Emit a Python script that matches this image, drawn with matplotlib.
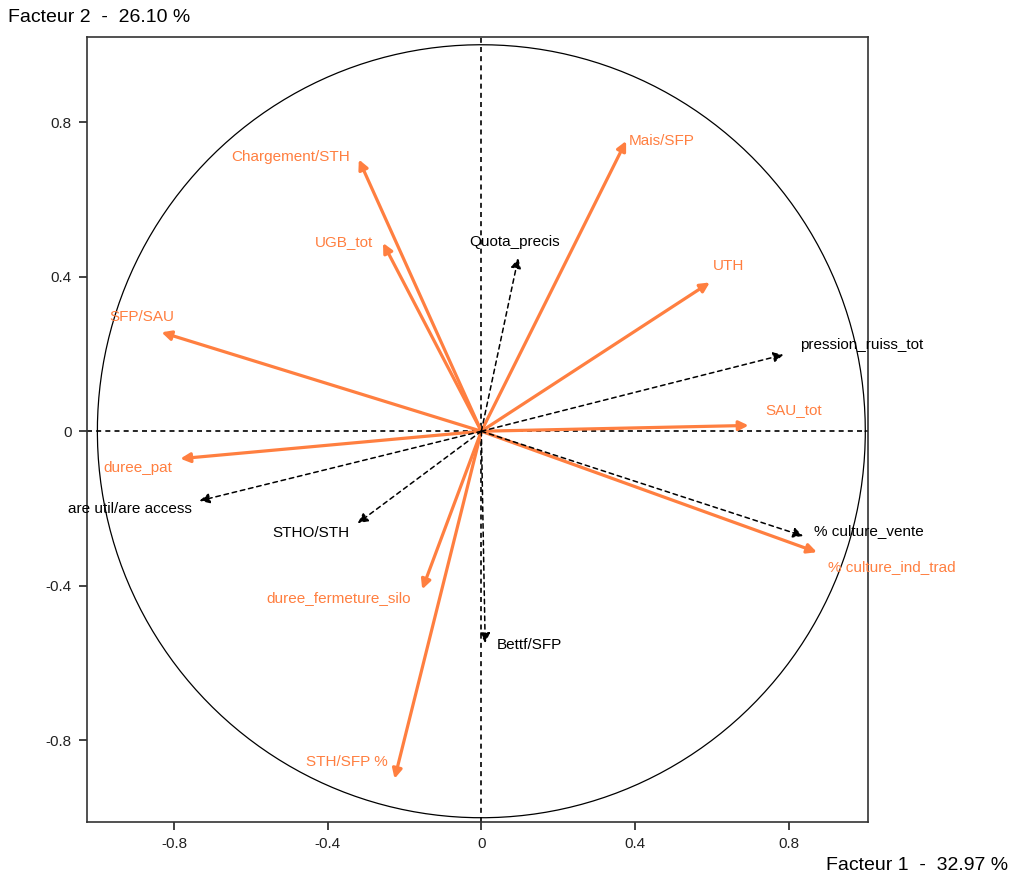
import matplotlib
matplotlib.use("Agg")
import matplotlib.pyplot as plt
import numpy as np

plt.rcParams["font.family"] = ["Liberation Sans", "DejaVu Sans"]

# active variables (orange, solid)
active_names = ["Chargement/STH", "UGB_tot", "SFP/SAU", "Mais/SFP", "UTH", "SAU_tot",
                "% culture_ind_trad", "duree_pat", "duree_fermeture_silo", "STH/SFP %"]
active_f1 = [-0.319, -0.256, -0.833, 0.377, 0.595, 0.696, 0.874, -0.784, -0.154, -0.226]
active_f2 = [0.703, 0.487, 0.256, 0.751, 0.385, 0.015, -0.313, -0.071, -0.409, -0.899]

# supplementary variables (black, dashed)
supp_names = ["Quota_precis", "pression_ruiss_tot", "% culture_vente", "Bettf/SFP",
              "STHO/STH", "are util/are access"]
supp_f1 = [0.096, 0.787, 0.838, 0.010, -0.322, -0.734]
supp_f2 = [0.448, 0.198, -0.271, -0.548, -0.238, -0.180]

pct_f1 = 32.97
pct_f2 = 26.10
ticks = [-0.8, -0.4, 0, 0.4, 0.8]

# label offsets in pixels from arrow tip (dx, dy, ha)
active_offsets = [(-9, 3, "right"), (-10, 1, "right"), (-20, 15, "center"), (3, 0, "left"),
                  (3, 16, "left"), (17, 15, "left"), (11, -15, "left"), (-8, -9, "right"),
                  (-11, -9, "right"), (-7, 17, "right")]
supp_offsets = [(-4, 16, "center"), (17, 10, "left"), (11, 5, "left"), (12, -2, "left"),
                (-8, -10, "right"), (-8, -8, "right")]

ORANGE = "#ff7f40"

fig = plt.figure(figsize=(10.15, 8.76), dpi=100)
ax = fig.add_axes([87 / 1015, 1 - 822 / 876, (868 - 87) / 1015, (822 - 37) / 876])
ax.set_xlim(-1.027, 1.007)
ax.set_ylim(-1.011, 1.020)

t = np.linspace(0, 2 * np.pi, 400)
ax.plot(np.cos(t), np.sin(t), color="black", lw=0.9)
ax.axhline(0, color="black", lw=1.2, ls=(0, (3, 2.5)))
ax.axvline(0, color="black", lw=1.2, ls=(0, (3, 2.5)))

for x, y in zip(active_f1, active_f2):
    ax.annotate("", xy=(x, y), xytext=(0, 0),
                arrowprops=dict(arrowstyle="-|>", color=ORANGE, lw=2.3,
                                mutation_scale=14, shrinkA=0, shrinkB=0))
for x, y in zip(supp_f1, supp_f2):
    ax.annotate("", xy=(x, y), xytext=(0, 0),
                arrowprops=dict(arrowstyle="-|>", color="black", lw=1.1, ls=(0, (3, 2.5)),
                                mutation_scale=15, shrinkA=0, shrinkB=0))

for name, x, y, (dx, dy, ha) in zip(active_names, active_f1, active_f2, active_offsets):
    ax.annotate(name, xy=(x, y), xytext=(dx * 0.72, dy * 0.72), textcoords="offset points",
                ha=ha, va="center", color=ORANGE, fontsize=11)
for name, x, y, (dx, dy, ha) in zip(supp_names, supp_f1, supp_f2, supp_offsets):
    ax.annotate(name, xy=(x, y), xytext=(dx * 0.72, dy * 0.72), textcoords="offset points",
                ha=ha, va="center", color="black", fontsize=11)

ax.set_xticks(ticks)
ax.set_yticks(ticks)
ax.set_xticklabels([f"{v:g}" for v in ticks])
ax.set_yticklabels([f"{v:g}" for v in ticks])
ax.tick_params(direction="out", length=6, width=1.2, labelsize=11, colors="#222222", pad=5)
for s in ax.spines.values():
    s.set_linewidth(1.2)
    s.set_color("#333333")

fig.text(8 / 1015, 1 - 17 / 876, f"Facteur 2  -  {pct_f2:.2f} %", ha="left", va="center", fontsize=14)
fig.text(1008 / 1015, 1 - 865 / 876, f"Facteur 1  -  {pct_f1:.2f} %", ha="right", va="center", fontsize=14)

fig.savefig("out.png", dpi=100)
